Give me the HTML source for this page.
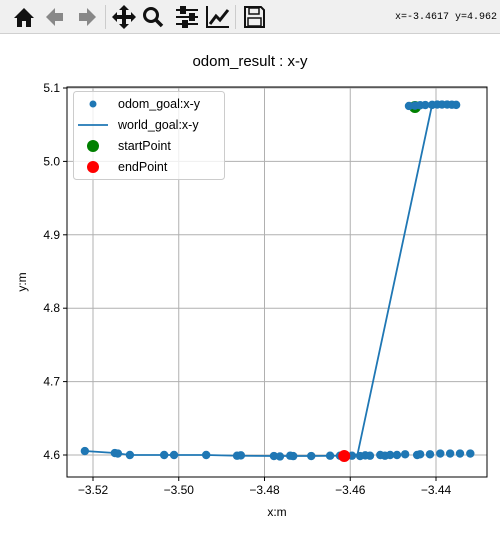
<!DOCTYPE html>
<html><head><meta charset="utf-8"><style>
body{margin:0;width:500px;height:534px;overflow:hidden;background:#fff;font-family:"Liberation Sans","DejaVu Sans",sans-serif}
#tb{position:absolute;left:0;top:0;width:500px;height:33px;background:#f0f0f0;border-bottom:1px solid #d0d0d0}
</style></head><body>
<div id="tb">
<svg width="280" height="33" style="position:absolute;left:0;top:0">
<g><path d="M14 18 L24 8 L34 18 L31 18 L31 27 L17 27 L17 18 Z" fill="#111"/><rect x="22" y="21" width="4" height="6" fill="#f0f0f0"/></g>
<g><path d="M46 17 L55 8 L55 13 L63 13 L63 21 L55 21 L55 26 Z" fill="#888"/></g>
<g><path d="M96 17 L87 8 L87 13 L79 13 L79 21 L87 21 L87 26 Z" fill="#888"/></g>
<rect x="105" y="5" width="1" height="24" fill="#ccc"/>
<g><path d="M124 5 L129 10 L126 10 L126 15 L131 15 L131 12 L136 17 L131 22 L131 19 L126 19 L126 24 L129 24 L124 29 L119 24 L122 24 L122 19 L117 19 L117 22 L112 17 L117 12 L117 15 L122 15 L122 10 L119 10 Z" fill="#111"/></g>
<g><circle cx="151" cy="15" r="6.5" fill="none" stroke="#111" stroke-width="3"/><line x1="156" y1="20" x2="162" y2="26" stroke="#111" stroke-width="3.5"/></g>
<g stroke="#111" stroke-width="2"><line x1="176" y1="10" x2="198" y2="10"/><line x1="176" y1="17" x2="198" y2="17"/><line x1="176" y1="24" x2="198" y2="24"/><rect x="181" y="7" width="4" height="6" fill="#111"/><rect x="190" y="14" width="4" height="6" fill="#111"/><rect x="183" y="21" width="4" height="6" fill="#111"/></g>
<g><path d="M207 6 L207 27 L229 27" fill="none" stroke="#111" stroke-width="2"/><path d="M210 24 L216 16 L220 20 L228 10" fill="none" stroke="#111" stroke-width="3"/></g>
<rect x="235" y="5" width="1" height="24" fill="#ccc"/>
<g><path d="M245 7 L261 7 L264 10 L264 27 L245 27 Z" fill="none" stroke="#111" stroke-width="2"/><rect x="249" y="8" width="10" height="6" fill="none" stroke="#111" stroke-width="1.5"/><rect x="248" y="18" width="13" height="8" fill="none" stroke="#111" stroke-width="1.5"/></g>
</svg>
<span style="position:absolute;left:395px;top:12px;font-size:10px;font-family:'Liberation Mono',monospace">x=-3.4617 y=4.962</span>
</div>
<svg id="c" width="500" height="534" style="position:absolute;left:0;top:0"></svg>
<script>
const odomX=[-3.5219,-3.5149,-3.5142,-3.5114,-3.5034,-3.5011,-3.4936,-3.4864,-3.4855,-3.4778,-3.4764,-3.4740,-3.4733,-3.4691,-3.4647,-3.4624,-3.4596,-3.4577,-3.4565,-3.4554,-3.4530,-3.4519,-3.4507,-3.4491,-3.4472,-3.4444,-3.4437,-3.4414,-3.4390,-3.4367,-3.4344,-3.4320,-3.4463,-3.4449,-3.4437,-3.4425,-3.4409,-3.4397,-3.4386,-3.4374,-3.4363,-3.4353];
const odomY=[4.6054,4.6027,4.6020,4.6000,4.6000,4.6000,4.6000,4.5990,4.5995,4.5986,4.5980,4.5990,4.5985,4.5986,4.5990,4.5990,4.5990,4.5986,4.5995,4.5990,4.6000,4.5990,4.6000,4.6000,4.6010,4.6000,4.6010,4.6010,4.6020,4.6020,4.6020,4.6020,5.0755,5.0760,5.0765,5.0768,5.0770,5.0775,5.0775,5.0775,5.0772,5.0770];
const worldX=[-3.4463,-3.4437,-3.4409,-3.4386,-3.4353,-3.4386,-3.4409,-3.4583,-3.4596,-3.4624,-3.4691,-3.4778,-3.4864,-3.4936,-3.5034,-3.5114,-3.5149,-3.5219];
const worldY=[5.0750,5.0760,5.0770,5.0775,5.0770,5.0778,5.0775,4.6010,4.5995,4.5990,4.5986,4.5986,4.5990,4.6000,4.6000,4.6000,4.6027,4.6054];
const startPt=[-3.4449,5.0741], endPt=[-3.4614,4.5986];
const xTicks=[-3.52,-3.50,-3.48,-3.46,-3.44], yTicks=[4.6,4.7,4.8,4.9,5.0,5.1];
const L=67,R=487,T=87,B=477;
const sx=v=>93+(v+3.52)/0.02*85.75, sy=v=>455-(v-4.6)/0.1*73.4;
const svg=document.getElementById('c');const NS='http://www.w3.org/2000/svg';
function mk(t,a,p){const e=document.createElementNS(NS,t);for(const k in a)e.setAttribute(k,a[k]);(p||svg).appendChild(e);return e;}
let e=mk('text',{x:250,y:66,'text-anchor':'middle','font-size':15});e.textContent='odom_result : x-y';


xTicks.forEach(v=>{const x=sx(v);let g=mk('line',{x1:x,x2:x,y1:T,y2:B,stroke:'#b0b0b0','stroke-width':1});


mk('line',{x1:x,x2:x,y1:B,y2:B+4,stroke:'#000'});
let t=mk('text',{x:x,y:B+17,'text-anchor':'middle','font-size':12});t.textContent=v.toFixed(2).replace('-','−');

});
yTicks.forEach(v=>{const y=sy(v);let g=mk('line',{x1:L,x2:R,y1:y,y2:y,stroke:'#b0b0b0','stroke-width':1});


mk('line',{x1:L-4,x2:L,y1:y,y2:y,stroke:'#000'});
let t=mk('text',{x:L-7,y:y+4,'text-anchor':'end','font-size':12});t.textContent=v.toFixed(1);

});
let s=mk('circle',{cx:sx(startPt[0]),cy:sy(startPt[1]),r:6,fill:'green'});


let pts=worldX.map((x,i)=>sx(x)+','+sy(worldY[i])).join(' ');
let pl=mk('polyline',{points:pts,fill:'none',stroke:'#1f77b4','stroke-width':1.8});


odomX.forEach((x,i)=>{let c=mk('circle',{cx:sx(x),cy:sy(odomY[i]),r:4.2,fill:'#1f77b4'});

});
let en=mk('circle',{cx:sx(endPt[0]),cy:sy(endPt[1]),r:6,fill:'red'});


let fr=mk('rect',{x:L,y:T,width:R-L,height:B-T,fill:'none',stroke:'#000','stroke-width':1});


let xl=mk('text',{x:277,y:516,'text-anchor':'middle','font-size':12});xl.textContent='x:m';


let yl=mk('text',{x:26,y:282,'text-anchor':'middle','font-size':12,transform:'rotate(-90 26 282)'});yl.textContent='y:m';


let lg=mk('g',{});


mk('rect',{x:73.5,y:91.5,width:151,height:88,rx:3,fill:'#fff','fill-opacity':0.8,stroke:'#ccc'},lg);
mk('circle',{cx:93,cy:104,r:3.5,fill:'#1f77b4'},lg);
mk('line',{x1:78,x2:108,y1:125,y2:125,stroke:'#1f77b4','stroke-width':1.8},lg);
mk('circle',{cx:93,cy:146,r:6,fill:'green'},lg);
mk('circle',{cx:93,cy:167,r:6,fill:'red'},lg);
['odom_goal:x-y','world_goal:x-y','startPoint','endPoint'].forEach((t,i)=>{let tx=mk('text',{x:118,y:108+i*21,'font-size':12.5},lg);tx.textContent=t;

});
</script>
</body></html>
